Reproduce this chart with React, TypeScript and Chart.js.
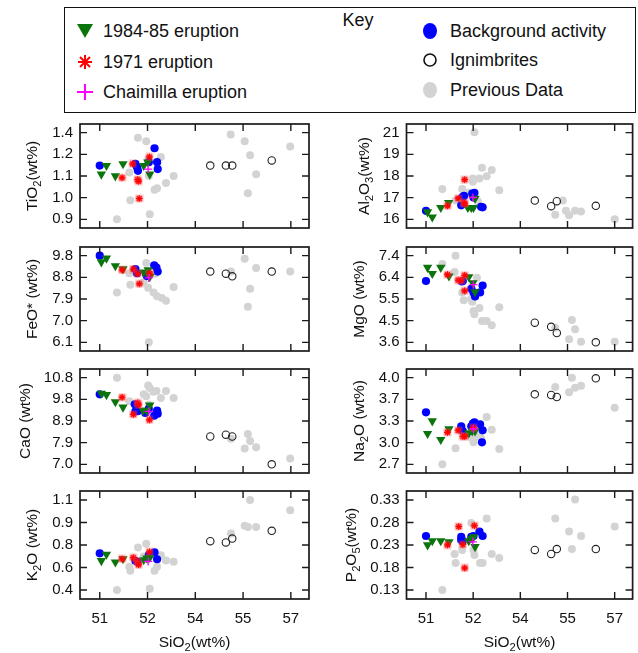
import React, { useEffect, useRef } from "react";
import { Chart, registerables } from "chart.js";
Chart.register(...registerables);

type Pt = [number, number];
type Seg = { t: string; sub?: boolean };

const FONT = "'Liberation Sans', Arial, Helvetica, sans-serif";
const GREEN = "#0c740c";
const GRAY = "#d3d3d3";

// ---- shared x axis (SiO2) ----
const xTicks = [51, 52.5, 54, 55.5, 57];
const xTickLabels = ["51", "52", "54", "55", "57"];

// ---- TiO2 ----
const tio2Ticks = [0.9, 1.025, 1.15, 1.275, 1.4];
const tio2TickLabels = ["0.9", "1.0", "1.1", "1.2", "1.4"];
const tio2Prev: Pt[] = [[52.2,1.37],[52.46,1.35],[51.93,1.17],[51.96,1.01],[51.54,0.9],[52.57,0.93],[52.72,1.07],[52.8,1.08],[53.08,1.11],[53.32,1.15],[52.92,1.26],[52.52,1.25],[52.54,1.15],[55.11,1.39],[55.55,1.35],[55.72,1.27],[55.91,1.16],[55.65,1.05],[56.98,1.32]];
const tio2Ign: Pt[] = [[54.47,1.21],[54.96,1.21],[55.16,1.21],[56.4,1.24]];
const tio2Bg: Pt[] = [[51.0,1.21],[52.12,1.22],[52.17,1.2],[52.2,1.18],[52.54,1.23],[52.72,1.31],[52.8,1.23],[52.82,1.19]];
const tio2E8485: Pt[] = [[51.21,1.21],[51.05,1.16],[51.49,1.15],[51.73,1.22],[52.38,1.21],[52.51,1.23],[52.57,1.16]];
const tio2E1971: Pt[] = [[51.7,1.14],[52.03,1.22],[52.19,1.13],[52.22,1.12],[52.24,1.02],[52.56,1.26]];
const tio2Chaim: Pt[] = [[52.52,1.19]];

// ---- Al2O3 ----
const al2o3Ticks = [16, 17.25, 18.5, 19.75, 21];
const al2o3TickLabels = ["16", "17", "18", "19", "21"];
const al2o3Prev: Pt[] = [[52.54,21.02],[51.52,17.75],[51.94,17.08],[52.15,17.75],[52.49,18.35],[52.49,18.17],[52.7,18.35],[52.78,18.98],[52.93,18.49],[53.09,18.85],[53.33,17.68],[52.36,17.53],[52.65,17.03],[55.11,16.27],[55.35,17.08],[55.45,16.49],[55.55,16.23],[55.74,16.49],[55.93,16.45],[57.0,16.0]];
const al2o3Ign: Pt[] = [[54.46,17.08],[54.98,16.76],[55.16,17.05],[56.4,16.78]];
const al2o3Bg: Pt[] = [[51.0,16.49],[52.12,16.81],[52.17,17.3],[52.21,17.35],[52.47,17.48],[52.51,17.26],[52.54,17.53],[52.75,16.72],[52.8,16.69]];
const al2o3E8485: Pt[] = [[51.05,16.42],[51.2,16.13],[51.47,16.67],[51.72,16.96],[52.33,16.67],[52.44,16.67],[52.56,17.21],[52.51,16.67]];
const al2o3E1971: Pt[] = [[51.68,16.78],[52.02,17.21],[52.23,18.29],[52.21,16.96],[52.23,16.9]];
const al2o3Chaim: Pt[] = [[52.49,17.26]];

// ---- FeO* ----
const feoTicks = [6.1, 7.025, 7.95, 8.875, 9.8];
const feoTickLabels = ["6.1", "7.0", "7.9", "8.8", "9.8"];
const feoPrev: Pt[] = [[52.46,9.49],[51.93,9.05],[51.96,8.56],[51.54,8.23],[52.38,8.66],[52.52,8.43],[52.69,8.23],[52.8,8.07],[52.95,7.99],[53.08,7.87],[53.32,8.46],[52.54,6.1],[52.75,9.03],[55.12,9.12],[55.55,9.67],[55.91,9.27],[55.72,8.39],[55.65,7.62],[56.98,9.12]];
const feoIgn: Pt[] = [[54.47,9.12],[54.96,9.03],[55.16,8.92],[56.4,9.12]];
const feoBg: Pt[] = [[51.0,9.8],[52.12,9.23],[52.17,9.05],[52.46,9.0],[52.48,8.93],[52.71,9.39],[52.78,9.29],[52.82,9.12]];
const feoE8485: Pt[] = [[51.05,9.53],[51.21,9.69],[51.49,9.36],[51.73,9.23],[52.38,9.09],[52.52,9.19],[52.57,8.9]];
const feoE1971: Pt[] = [[51.7,9.19],[52.05,9.23],[52.19,9.03],[52.24,8.6],[52.57,9.05]];
const feoChaim: Pt[] = [[52.54,8.85]];

// ---- MgO ----
const mgoTicks = [3.6, 4.55, 5.5, 6.45, 7.4];
const mgoTickLabels = ["3.6", "4.5", "5.5", "6.4", "7.4"];
const mgoPrev: Pt[] = [[51.94,7.4],[51.52,7.04],[51.91,6.68],[52.62,6.43],[52.15,5.79],[52.2,5.45],[52.44,5.51],[52.47,5.38],[52.51,4.97],[52.54,4.83],[52.7,5.1],[52.78,4.53],[52.93,4.53],[53.09,4.35],[53.33,5.14],[55.11,4.24],[55.64,4.58],[55.74,4.17],[55.55,3.74],[55.93,3.63],[57.0,3.63]];
const mgoIgn: Pt[] = [[54.46,4.46],[54.98,4.28],[55.16,4.01],[56.4,3.6]];
const mgoBg: Pt[] = [[51.0,6.29],[52.14,6.27],[52.17,6.29],[52.44,5.95],[52.51,5.79],[52.56,5.61],[52.72,5.79],[52.8,6.09]];
const mgoE8485: Pt[] = [[51.05,6.88],[51.2,6.61],[51.47,6.88],[51.73,6.5],[52.36,6.47],[52.49,6.2],[52.56,5.81]];
const mgoE1971: Pt[] = [[51.68,6.57],[52.02,6.33],[52.12,6.31],[52.23,6.54],[52.23,5.86]];
const mgoChaim: Pt[] = [[52.51,6.13]];

// ---- CaO ----
const caoTicks = [7.0, 7.95, 8.9, 9.85, 10.8];
const caoTickLabels = ["7.0", "7.9", "8.9", "9.8", "10.8"];
const caoPrev: Pt[] = [[51.54,10.8],[51.93,9.77],[52.38,10.07],[52.52,10.46],[52.57,10.35],[52.46,9.98],[52.69,10.18],[52.78,10.21],[52.92,9.91],[53.08,10.21],[53.32,9.91],[52.54,9.61],[55.12,8.12],[55.65,8.33],[55.72,8.02],[55.55,7.69],[55.91,7.75],[56.98,7.26]];
const caoIgn: Pt[] = [[54.47,8.22],[54.96,8.3],[55.16,8.22],[56.4,7.0]];
const caoBg: Pt[] = [[51.0,10.07],[52.12,9.32],[52.19,9.33],[52.1,9.63],[52.43,9.25],[52.54,9.43],[52.71,9.13],[52.8,9.36],[52.82,9.22]];
const caoE8485: Pt[] = [[51.05,10.11],[51.21,10.05],[51.49,9.74],[51.73,9.5],[52.36,9.36],[52.48,9.36],[52.57,9.59]];
const caoE1971: Pt[] = [[51.7,9.94],[52.05,9.19],[52.19,9.7],[52.22,9.61],[52.56,8.95]];
const caoChaim: Pt[] = [[52.54,9.32]];

// ---- Na2O ----
const na2oTicks = [2.7, 3.025, 3.35, 3.675, 4.0];
const na2oTickLabels = ["2.7", "3.0", "3.3", "3.7", "4.0"];
const na2oPrev: Pt[] = [[51.52,2.7],[51.94,2.94],[52.93,3.41],[53.09,3.22],[53.33,2.93],[52.51,3.03],[52.41,3.11],[52.65,3.12],[52.75,3.09],[55.11,3.86],[55.64,4.0],[55.55,3.78],[55.74,3.85],[55.93,3.88],[57.0,3.55]];
const na2oIgn: Pt[] = [[54.46,3.75],[54.98,3.74],[55.16,3.71],[56.4,3.99]];
const na2oBg: Pt[] = [[51.0,3.48],[52.12,3.27],[52.17,3.2],[52.44,3.27],[52.49,3.31],[52.54,3.33],[52.72,3.3],[52.8,3.21],[52.78,3.03]];
const na2oE8485: Pt[] = [[51.05,3.16],[51.2,3.35],[51.47,3.07],[51.73,3.23],[52.36,3.17],[52.47,3.2],[52.56,3.2]];
const na2oE1971: Pt[] = [[51.68,3.18],[52.02,3.21],[52.17,3.12],[52.23,3.12],[52.51,3.25]];
const na2oChaim: Pt[] = [[52.51,3.23]];

// ---- K2O ----
const k2oTicks = [0.4, 0.575, 0.75, 0.925, 1.1];
const k2oTickLabels = ["0.4", "0.6", "0.8", "0.9", "1.1"];
const k2oPrev: Pt[] = [[55.72,1.1],[56.98,1.02],[55.55,0.9],[55.65,0.89],[55.91,0.89],[55.12,0.84],[52.2,0.73],[52.46,0.76],[51.93,0.58],[51.96,0.55],[51.54,0.4],[52.57,0.41],[52.72,0.55],[52.8,0.58],[52.92,0.67],[53.08,0.63],[53.32,0.62],[52.38,0.66]];
const k2oIgn: Pt[] = [[54.47,0.78],[54.96,0.77],[55.16,0.8],[56.4,0.86]];
const k2oBg: Pt[] = [[51.0,0.685],[52.12,0.627],[52.19,0.617],[52.54,0.672],[52.72,0.692],[52.8,0.639]];
const k2oE8485: Pt[] = [[51.21,0.677],[51.05,0.627],[51.49,0.617],[51.73,0.642],[52.38,0.634],[52.48,0.647],[52.57,0.652]];
const k2oE1971: Pt[] = [[51.7,0.642],[52.05,0.652],[52.17,0.622],[52.22,0.596],[52.56,0.697]];
const k2oChaim: Pt[] = [[52.52,0.622]];

// ---- P2O5 ----
const p2o5Ticks = [0.13, 0.18, 0.23, 0.28, 0.33];
const p2o5TickLabels = ["0.13", "0.18", "0.23", "0.28", "0.33"];
const p2o5Prev: Pt[] = [[51.52,0.13],[51.94,0.19],[51.91,0.21],[52.15,0.219],[52.44,0.279],[52.51,0.219],[52.54,0.208],[52.72,0.19],[52.8,0.19],[52.93,0.289],[53.09,0.21],[53.33,0.201],[55.11,0.289],[55.74,0.331],[55.55,0.26],[55.64,0.221],[55.93,0.25],[57.0,0.271]];
const p2o5Ign: Pt[] = [[54.46,0.219],[54.98,0.21],[55.16,0.221],[56.4,0.221]];
const p2o5Bg: Pt[] = [[51.0,0.25],[52.12,0.248],[52.12,0.241],[52.44,0.248],[52.51,0.25],[52.7,0.26],[52.8,0.25],[52.17,0.239]];
const p2o5E8485: Pt[] = [[51.05,0.23],[51.2,0.239],[51.47,0.239],[51.73,0.237],[52.36,0.239],[52.47,0.244],[52.56,0.226],[52.51,0.248]];
const p2o5E1971: Pt[] = [[51.68,0.23],[52.04,0.271],[52.17,0.231],[52.23,0.179],[52.54,0.273]];
const p2o5Chaim: Pt[] = [[52.49,0.237]];

type PanelCfg = {
  col: number; row: number; title: Seg[]; titleX: number;
  ticks: number[]; labels: string[];
  prev: Pt[]; ign: Pt[]; bg: Pt[]; e8485: Pt[]; e1971: Pt[]; chaim: Pt[];
};

// titleX: baseline x of the rotated y-axis title, relative to the panel's column
const panels: PanelCfg[] = [
  { col: 0, row: 0, titleX: 37, title: [{ t: "TiO" }, { t: "2", sub: true }, { t: "(wt%)" }], ticks: tio2Ticks, labels: tio2TickLabels, prev: tio2Prev, ign: tio2Ign, bg: tio2Bg, e8485: tio2E8485, e1971: tio2E1971, chaim: tio2Chaim },
  { col: 1, row: 0, titleX: 50, title: [{ t: "Al" }, { t: "2", sub: true }, { t: "O" }, { t: "3", sub: true }, { t: "(wt%)" }], ticks: al2o3Ticks, labels: al2o3TickLabels, prev: al2o3Prev, ign: al2o3Ign, bg: al2o3Bg, e8485: al2o3E8485, e1971: al2o3E1971, chaim: al2o3Chaim },
  { col: 0, row: 1, titleX: 37, title: [{ t: "FeO* (wt%)" }], ticks: feoTicks, labels: feoTickLabels, prev: feoPrev, ign: feoIgn, bg: feoBg, e8485: feoE8485, e1971: feoE1971, chaim: feoChaim },
  { col: 1, row: 1, titleX: 45, title: [{ t: "MgO (wt%)" }], ticks: mgoTicks, labels: mgoTickLabels, prev: mgoPrev, ign: mgoIgn, bg: mgoBg, e8485: mgoE8485, e1971: mgoE1971, chaim: mgoChaim },
  { col: 0, row: 2, titleX: 30, title: [{ t: "CaO (wt%)" }], ticks: caoTicks, labels: caoTickLabels, prev: caoPrev, ign: caoIgn, bg: caoBg, e8485: caoE8485, e1971: caoE1971, chaim: caoChaim },
  { col: 1, row: 2, titleX: 45, title: [{ t: "Na" }, { t: "2", sub: true }, { t: "O (wt%)" }], ticks: na2oTicks, labels: na2oTickLabels, prev: na2oPrev, ign: na2oIgn, bg: na2oBg, e8485: na2oE8485, e1971: na2oE1971, chaim: na2oChaim },
  { col: 0, row: 3, titleX: 37, title: [{ t: "K" }, { t: "2", sub: true }, { t: "O (wt%)" }], ticks: k2oTicks, labels: k2oTickLabels, prev: k2oPrev, ign: k2oIgn, bg: k2oBg, e8485: k2oE8485, e1971: k2oE1971, chaim: k2oChaim },
  { col: 1, row: 3, titleX: 37, title: [{ t: "P" }, { t: "2", sub: true }, { t: "O" }, { t: "5", sub: true }, { t: "(wt%)" }], ticks: p2o5Ticks, labels: p2o5TickLabels, prev: p2o5Prev, ign: p2o5Ign, bg: p2o5Bg, e8485: p2o5E8485, e1971: p2o5E1971, chaim: p2o5Chaim },
];

const xTitle: Seg[] = [{ t: "SiO" }, { t: "2", sub: true }, { t: "(wt%)" }];

// ---- layout ----
const COL_W = 319;
const ROW_TOPS = [120, 243, 365, 487];
const AREA_H = 112;
const PAD_TOP = 12;
const TICK_FONT = 15;
const TITLE_FONT = 15.5;

function drawRich(ctx: CanvasRenderingContext2D, segs: Seg[], cx: number, baseY: number, size: number) {
  const subSize = size * 0.72;
  const widths = segs.map((s) => {
    ctx.font = `${s.sub ? subSize : size}px ${FONT}`;
    return ctx.measureText(s.t).width;
  });
  const total = widths.reduce((a, b) => a + b, 0);
  let x = cx - total / 2;
  ctx.textAlign = "left";
  ctx.textBaseline = "alphabetic";
  segs.forEach((s, i) => {
    ctx.font = `${s.sub ? subSize : size}px ${FONT}`;
    ctx.fillText(s.t, x, baseY + (s.sub ? size * 0.28 : 0));
    x += widths[i];
  });
}

// red asterisk marker with its faint square halo, as in the reference
function makeStarMarker(): HTMLCanvasElement {
  const c = document.createElement("canvas");
  c.width = 9; c.height = 9;
  const g = c.getContext("2d")!;
  g.fillStyle = "rgba(255,90,90,0.35)";
  g.fillRect(0.5, 0.5, 8, 8);
  g.strokeStyle = "#ff0000";
  g.lineWidth = 1.3;
  g.beginPath();
  g.moveTo(4.5, 1); g.lineTo(4.5, 8);
  g.moveTo(1, 4.5); g.lineTo(8, 4.5);
  g.moveTo(2, 2); g.lineTo(7, 7);
  g.moveTo(2, 7); g.lineTo(7, 2);
  g.stroke();
  return c;
}

const toXY = (pts: Pt[]) => pts.map(([x, y]) => ({ x, y }));

function Panel({ p }: { p: PanelCfg }) {
  const ref = useRef<HTMLCanvasElement>(null);
  const bottomRow = p.row === 3;
  const top = ROW_TOPS[p.row] - PAD_TOP;
  const h = bottomRow ? 653 - top : AREA_H + 2 * PAD_TOP;
  const left = p.col * COL_W;

  useEffect(() => {
    const canvas = ref.current!;
    const isLeft = p.col === 0;
    const chartLeft = isLeft ? 80 : 87.5;
    const padRight = isLeft ? 10 : 3.3;
    const xH = h - PAD_TOP - AREA_H;
    const t = p.ticks;
    const yr = t[4] - t[0];
    const star = makeStarMarker();
    const framePlugin = {
      id: "frame",
      afterDraw(chart: any) {
        const { ctx, chartArea: a, scales } = chart;
        ctx.save();
        ctx.strokeStyle = "#1a1a1a";
        ctx.lineWidth = 1.7;
        ctx.strokeRect(a.left, a.top, a.right - a.left, a.bottom - a.top);
        ctx.lineWidth = 1.4;
        ctx.beginPath();
        const TL = 7;
        xTicks.forEach((v) => {
          const px = scales.x.getPixelForValue(v);
          ctx.moveTo(px, a.bottom); ctx.lineTo(px, a.bottom - TL);
          ctx.moveTo(px, a.top); ctx.lineTo(px, a.top + TL);
        });
        t.forEach((v) => {
          const py = scales.y.getPixelForValue(v);
          ctx.moveTo(a.left, py); ctx.lineTo(a.left + TL, py);
          ctx.moveTo(a.right, py); ctx.lineTo(a.right - TL, py);
        });
        ctx.stroke();
        ctx.fillStyle = "#111";
        ctx.save();
        ctx.translate(p.titleX, (a.top + a.bottom) / 2);
        ctx.rotate(-Math.PI / 2);
        drawRich(ctx, p.title, 0, 0, TITLE_FONT);
        ctx.restore();
        if (bottomRow) {
          drawRich(ctx, xTitle, (a.left + a.right) / 2, 647 - top, TITLE_FONT);
        }
        ctx.restore();
      },
    };
    const chart = new Chart(canvas, {
      type: "scatter",
      data: {
        datasets: [
          { label: "Chaimilla eruption", data: toXY(p.chaim), order: 1, pointStyle: "cross", pointRadius: 4, borderColor: "#ff00ff", backgroundColor: "#ff00ff", borderWidth: 1.3 },
          { label: "1971 eruption", data: toXY(p.e1971), order: 2, pointStyle: star, pointRadius: 4.5, borderColor: "#ff0000", backgroundColor: "#ff0000", borderWidth: 0 },
          { label: "1984-85 eruption", data: toXY(p.e8485), order: 3, pointStyle: "triangle", pointRotation: 180, pointRadius: 5.4, borderColor: GREEN, backgroundColor: GREEN, borderWidth: 0 },
          { label: "Background activity", data: toXY(p.bg), order: 4, pointStyle: "circle", pointRadius: 4.1, borderColor: "#0000ff", backgroundColor: "#0000ff", borderWidth: 0 },
          { label: "Ignimbrites", data: toXY(p.ign), order: 5, pointStyle: "circle", pointRadius: 3.7, borderColor: "#222", backgroundColor: "rgba(0,0,0,0)", borderWidth: 1.1 },
          { label: "Previous Data", data: toXY(p.prev), order: 6, pointStyle: "circle", pointRadius: 4, borderColor: GRAY, backgroundColor: GRAY, borderWidth: 0 },
        ] as any,
      },
      options: {
        animation: false,
        responsive: false,
        maintainAspectRatio: false,
        devicePixelRatio: 1,
        events: [],
        layout: { padding: { top: PAD_TOP, left: 0, right: padRight, bottom: 0 } },
        plugins: { legend: { display: false }, tooltip: { enabled: false } },
        scales: {
          x: {
            type: "linear",
            position: "bottom",
            min: 50.38,
            max: 57.57,
            grid: { display: false, drawTicks: false },
            border: { display: false },
            ticks: {
              display: bottomRow,
              padding: 11,
              autoSkip: false,
              maxRotation: 0,
              color: "#111",
              font: { family: FONT, size: TICK_FONT },
              callback: (_v: any, i: number) => xTickLabels[i],
            },
            afterBuildTicks: (s: any) => { s.ticks = xTicks.map((v) => ({ value: v })); },
            afterFit: (s: any) => { s.height = xH; },
          },
          y: {
            type: "linear",
            position: "left",
            min: t[0] - 0.1 * yr,
            max: t[4] + 0.1 * yr,
            grid: { display: false, drawTicks: false },
            border: { display: false },
            ticks: {
              padding: 7,
              autoSkip: false,
              color: "#111",
              font: { family: FONT, size: TICK_FONT },
              callback: (_v: any, i: number) => p.labels[i],
            },
            afterBuildTicks: (s: any) => { s.ticks = t.map((v) => ({ value: v })); },
            afterFit: (s: any) => { s.width = chartLeft; },
          },
        },
      } as any,
      plugins: [framePlugin],
    });
    return () => chart.destroy();
  }, [p]);

  return (
    <canvas
      ref={ref}
      width={COL_W}
      height={h}
      style={{ position: "absolute", left, top, width: COL_W, height: h }}
    />
  );
}

function Legend() {
  const txt = (s: string, x: number, y: number) => (
    <div style={{ position: "absolute", left: x, top: y - 11, lineHeight: "22px", fontSize: 18, fontFamily: FONT, color: "#111", whiteSpace: "nowrap" }}>{s}</div>
  );
  return (
    <>
      <div style={{ position: "absolute", left: 64, top: 7, width: 572, height: 106, border: "1.5px solid #111", boxSizing: "border-box" }} />
      <svg width={638} height={120} style={{ position: "absolute", left: 0, top: 0 }}>
        <polygon points="77,24 93,24 85,38" fill={GREEN} />
        <g stroke="#ff0000" strokeWidth={2}>
          <line x1={85} y1={55} x2={85} y2={69} />
          <line x1={78} y1={62} x2={92} y2={62} />
          <line x1={80} y1={57} x2={90} y2={67} />
          <line x1={80} y1={67} x2={90} y2={57} />
        </g>
        <g stroke="#ff00ff" strokeWidth={2}>
          <line x1={85} y1={84} x2={85} y2={100} />
          <line x1={77} y1={92} x2={93} y2={92} />
        </g>
        <ellipse cx={430} cy={31} rx={7} ry={8} fill="#0000ff" />
        <circle cx={430} cy={60} r={6} fill="none" stroke="#111" strokeWidth={1.6} />
        <ellipse cx={430} cy={90} rx={7} ry={8} fill={GRAY} />
      </svg>
      {txt("1984-85 eruption", 103, 31)}
      {txt("1971 eruption", 103, 62)}
      {txt("Chaimilla eruption", 103, 92)}
      {txt("Background activity", 450, 31)}
      {txt("Ignimbrites", 450, 60)}
      {txt("Previous Data", 450, 90)}
      <div style={{ position: "absolute", left: 318, width: 80, textAlign: "center", top: 9, lineHeight: "22px", fontSize: 18, fontFamily: FONT, color: "#111" }}>Key</div>
    </>
  );
}

export default function App() {
  return (
    <div style={{ position: "absolute", left: 0, top: 0, width: 638, height: 653, background: "#fff", overflow: "hidden" }}>
      <Legend />
      {panels.map((p, i) => (
        <Panel key={i} p={p} />
      ))}
    </div>
  );
}
